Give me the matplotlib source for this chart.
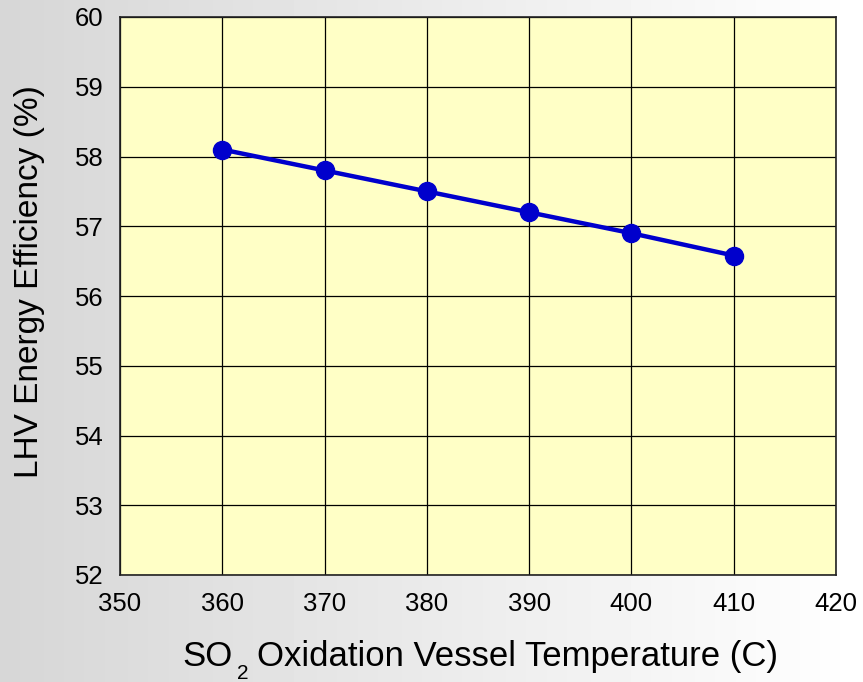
import numpy as np
import matplotlib
matplotlib.use("Agg")
import matplotlib.pyplot as plt

temperature = [360, 370, 380, 390, 400, 410]
efficiency = [58.1, 57.8, 57.5, 57.2, 56.9, 56.58]
x_ticks = [350, 360, 370, 380, 390, 400, 410, 420]
y_ticks = [52, 53, 54, 55, 56, 57, 58, 59, 60]

plt.rcParams['font.family'] = ['Liberation Sans', 'DejaVu Sans']

W, H = 863, 682
fig = plt.figure(figsize=(W / 100, H / 100), dpi=100)

# gradient background
bg = fig.add_axes([0, 0, 1, 1], zorder=-10)
grad = np.linspace(0.84, 1.0, 256).reshape(1, -1)
bg.imshow(grad, cmap='gray', vmin=0, vmax=1, aspect='auto', extent=[0, 1, 0, 1])
bg.axis('off')

ax = fig.add_axes([120 / W, 1 - 575 / H, (836 - 120) / W, (575 - 17) / H])
ax.set_facecolor('#FFFFC6')
ax.plot(temperature, efficiency, color='#0000CC', lw=3.2, marker='o', ms=13, zorder=3)
ax.set_xlim(350, 420)
ax.set_ylim(52, 60)
ax.set_xticks(x_ticks)
ax.set_yticks(y_ticks)
ax.grid(True, color='black', lw=0.9)
ax.set_axisbelow(True)
for s in ax.spines.values():
    s.set_color('#222222')
    s.set_linewidth(1.2)
ax.tick_params(axis='both', labelsize=18.5, length=0)
ax.tick_params(axis='x', pad=12)
ax.tick_params(axis='y', pad=12)

# y label
fig.text(30 / W, 1 - 282 / H, 'LHV Energy Efficiency (%)', rotation=90,
         ha='center', va='center', fontsize=24)

# x label with deep subscript
r = fig.canvas.get_renderer()
t1 = fig.text(182 / W, (H - 666) / H, 'SO', fontsize=25, va='baseline', ha='left')
e1 = t1.get_window_extent(renderer=r)
t2 = fig.text((e1.x1 + 5) / W, (H - 679) / H, '2', fontsize=15, va='baseline', ha='left')
e2 = t2.get_window_extent(renderer=r)
t3 = fig.text((e2.x1 + 8) / W, (H - 666) / H, 'Oxidation Vessel Temperature (C)',
              fontsize=25, va='baseline', ha='left')

fig.savefig('out.png', dpi=100)
